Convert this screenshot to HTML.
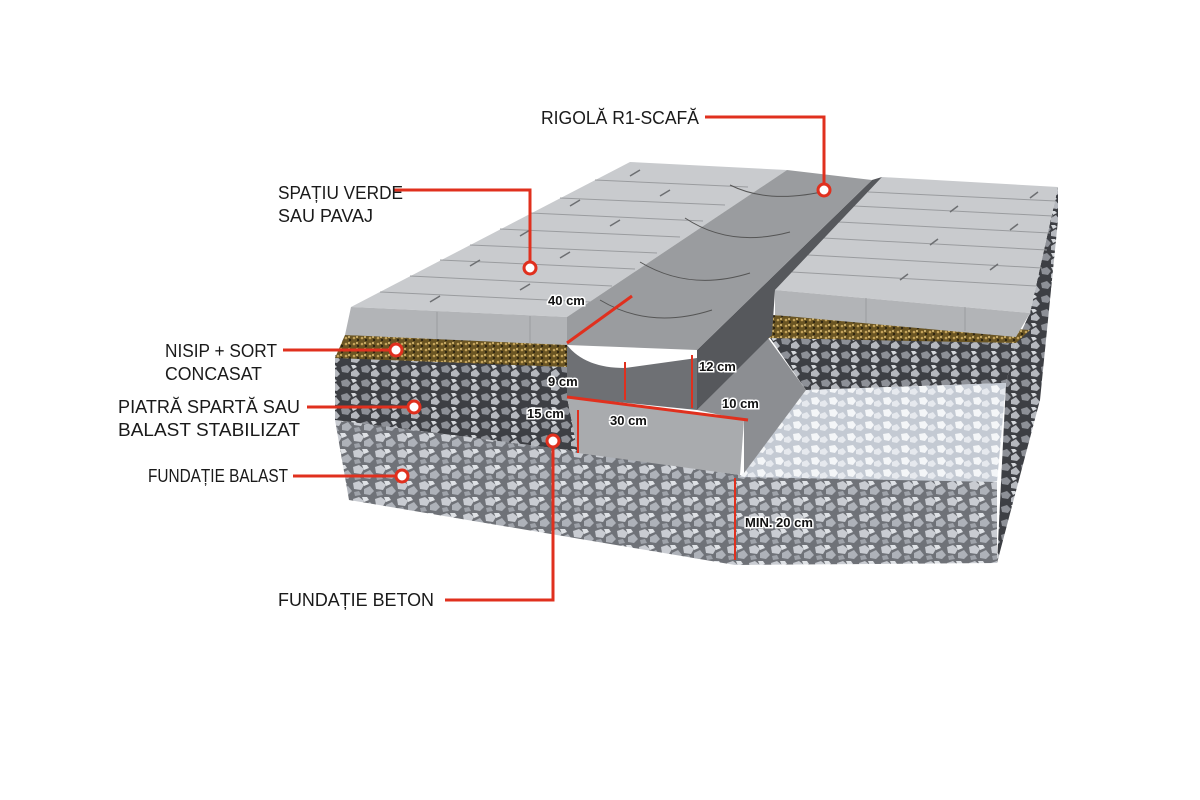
<!DOCTYPE html>
<html><head><meta charset="utf-8"><style>
html,body{margin:0;padding:0;background:#fff;width:1200px;height:800px;overflow:hidden}
text{font-family:"Liberation Sans",sans-serif}
.l{font-size:18px;fill:#1a1a1a}
.d{font-size:13px;font-weight:bold;fill:#111;stroke:#fff;stroke-width:3px;paint-order:stroke}
</style></head><body>
<svg width="1200" height="800" viewBox="0 0 1200 800" xmlns="http://www.w3.org/2000/svg">
<defs>
<pattern id="grav" width="22" height="16" patternUnits="userSpaceOnUse">
<rect width="22" height="16" fill="#6f7278"/>
<path d="M1 3l6-2 5 4-3 5-7-1z" fill="#c9ccd2"/>
<path d="M12 9l6-3 4 5-4 4-6-1z" fill="#aeb2b9"/>
<path d="M10 1l5 0 2 3-5 2z" fill="#dfe2e6"/>
<path d="M2 12l5-1 2 4-6 1z" fill="#9fa3aa"/>
</pattern>
<pattern id="dgrav" width="20" height="14" patternUnits="userSpaceOnUse">
<rect width="20" height="14" fill="#3d3f44"/>
<path d="M1 3l6-2 4 4-3 4-6-1z" fill="#8d9097"/>
<path d="M11 8l5-3 4 5-3 3-6-1z" fill="#b5b8be"/>
<path d="M11 1l4 0 2 2-4 2z" fill="#d5d8dc"/>
</pattern>
<pattern id="wgrav" width="18" height="12" patternUnits="userSpaceOnUse">
<rect width="18" height="12" fill="#c4cad3"/>
<path d="M1 2l6-1 3 4-3 4-5-1z" fill="#f4f6f8"/>
<path d="M10 6l5-2 3 4-3 3-5-1z" fill="#e6e9ee"/>
</pattern>
<pattern id="sand" width="8" height="6" patternUnits="userSpaceOnUse">
<rect width="8" height="6" fill="#6a5523"/>
<circle cx="2" cy="2" r="1.3" fill="#c4a25a"/><circle cx="6" cy="4" r="1.2" fill="#2e2512"/><circle cx="5" cy="1" r="1" fill="#e0c27a"/>
</pattern>
</defs>

<polygon points="335,420 568,450 740,475 997,480 997,563 735,565 349,500" fill="url(#grav)"/>
<polygon points="1058,187 1030,313 1016,343 1006,383 997,563 1040,400 1058,220" fill="url(#dgrav)"/>
<polygon points="335,355 567,367 567,397 578,453 568,450 335,420" fill="url(#dgrav)"/>
<polygon points="768,335 1016,343 1006,383 806,390" fill="url(#dgrav)"/>
<polygon points="740,477 806,390 1006,383 997,482" fill="url(#wgrav)"/>
<polygon points="567,397 744,420 740,475 578,453" fill="#a9abae"/>
<polygon points="697,410 768,338 806,390 744,473 744,420" fill="#8c8e92"/>
<polygon points="345,335 567,340 567,367 335,358" fill="url(#sand)"/>
<polygon points="772,315 1030,330 1016,343 768,338" fill="url(#sand)"/>
<!-- left pavement -->
<polygon points="351,307 630,162 787,170 567,317" fill="#c9cbce"/>
<polygon points="351,307 567,317 567,345 345,335" fill="#b2b4b7"/>
<g stroke="#9a9c9f" stroke-width="1">
<line x1="437" y1="312" x2="437" y2="339"/><line x1="530" y1="316" x2="530" y2="343"/>
<line x1="380" y1="292" x2="590" y2="302"/><line x1="410" y1="276" x2="612" y2="286"/>
<line x1="440" y1="260" x2="635" y2="269"/><line x1="470" y1="245" x2="657" y2="253"/>
<line x1="500" y1="229" x2="680" y2="237"/><line x1="530" y1="213" x2="703" y2="221"/>
<line x1="560" y1="198" x2="725" y2="205"/><line x1="595" y1="180" x2="748" y2="187"/>
</g>
<g stroke="#6d6f72" stroke-width="1.5">
<line x1="430" y1="302" x2="440" y2="296"/><line x1="520" y1="290" x2="530" y2="284"/><line x1="470" y1="266" x2="480" y2="260"/>
<line x1="560" y1="258" x2="570" y2="252"/><line x1="520" y1="236" x2="530" y2="230"/><line x1="610" y1="226" x2="620" y2="220"/>
<line x1="570" y1="206" x2="580" y2="200"/><line x1="660" y1="196" x2="670" y2="190"/><line x1="630" y1="176" x2="640" y2="170"/>
</g>
<!-- right pavement -->
<polygon points="775,290 882,177 1058,187 1030,313" fill="#c9cbce"/>
<polygon points="775,290 1030,313 1016,337 775,315" fill="#b2b4b7"/>
<g stroke="#9a9c9f" stroke-width="1">
<line x1="866" y1="298" x2="866" y2="323"/><line x1="965" y1="307" x2="965" y2="331"/>
<line x1="792" y1="272" x2="1036" y2="286"/><line x1="808" y1="255" x2="1042" y2="268"/>
<line x1="823" y1="238" x2="1047" y2="250"/><line x1="839" y1="222" x2="1050" y2="233"/>
<line x1="854" y1="206" x2="1053" y2="216"/><line x1="868" y1="192" x2="1056" y2="201"/>
</g>
<g stroke="#6d6f72" stroke-width="1.5">
<line x1="900" y1="280" x2="908" y2="274"/><line x1="990" y1="270" x2="998" y2="264"/><line x1="930" y1="245" x2="938" y2="239"/>
<line x1="1010" y1="230" x2="1018" y2="224"/><line x1="950" y1="212" x2="958" y2="206"/><line x1="1030" y1="198" x2="1038" y2="192"/>
</g>
<!-- gutter -->
<polygon points="697,350 872,180 882,177 775,290 772,335 697,410" fill="#56585c"/>
<polygon points="567,317 787,170 872,180 697,350 567,345" fill="#9a9c9f"/>
<g fill="none" stroke="#555" stroke-width="1">
<path d="M600,300 Q650,330 712,310"/><path d="M640,262 Q690,292 750,273"/><path d="M685,218 Q730,248 790,232"/><path d="M730,185 Q770,205 830,190"/>
</g>
<path d="M567,345 Q585,368 625,368 L697,358 L697,410 L567,397 Z" fill="#6e7074"/>

<g stroke="#e0301e" stroke-width="3" fill="none">
<line x1="567" y1="343" x2="632" y2="296"/>
<line x1="567" y1="397" x2="748" y2="420"/>
</g>
<g stroke="#e0301e" stroke-width="2" fill="none">
<line x1="625" y1="362" x2="625" y2="400"/>
<line x1="692" y1="355" x2="692" y2="408"/>
<line x1="578" y1="410" x2="578" y2="453"/>
<line x1="735" y1="478" x2="735" y2="560"/>
</g>
<text class="d" x="548" y="305">40 cm</text>
<text class="d" x="548" y="386">9 cm</text>
<text class="d" x="699" y="371">12 cm</text>
<text class="d" x="722" y="408">10 cm</text>
<text class="d" x="610" y="425">30 cm</text>
<text class="d" x="527" y="418">15 cm</text>
<text class="d" x="745" y="527">MIN. 20 cm</text>

<g stroke="#e0301e" stroke-width="3" fill="none">
<polyline points="705,117 824,117 824,183"/>
<polyline points="393,190 530,190 530,262"/>
<line x1="283" y1="350" x2="390" y2="350"/>
<line x1="307" y1="407" x2="408" y2="407"/>
<line x1="293" y1="476" x2="396" y2="476"/>
<polyline points="445,600 553,600 553,447"/>
</g>
<g fill="#fff" stroke="#e0301e" stroke-width="3">
<circle cx="824" cy="190" r="6"/><circle cx="530" cy="268" r="6"/><circle cx="396" cy="350" r="6"/>
<circle cx="414" cy="407" r="6"/><circle cx="402" cy="476" r="6"/><circle cx="553" cy="441" r="6"/>
</g>
<text class="l" x="541" y="124" textLength="158" lengthAdjust="spacingAndGlyphs">RIGOLĂ R1-SCAFĂ</text>
<text class="l" x="278" y="199" textLength="125" lengthAdjust="spacingAndGlyphs">SPAȚIU VERDE</text>
<text class="l" x="278" y="222" textLength="95" lengthAdjust="spacingAndGlyphs">SAU PAVAJ</text>
<text class="l" x="165" y="357" textLength="112" lengthAdjust="spacingAndGlyphs">NISIP + SORT</text>
<text class="l" x="165" y="380" textLength="97" lengthAdjust="spacingAndGlyphs">CONCASAT</text>
<text class="l" x="118" y="413" textLength="182" lengthAdjust="spacingAndGlyphs">PIATRĂ SPARTĂ SAU</text>
<text class="l" x="118" y="436" textLength="182" lengthAdjust="spacingAndGlyphs">BALAST STABILIZAT</text>
<text class="l" x="148" y="482" textLength="140" lengthAdjust="spacingAndGlyphs">FUNDAȚIE BALAST</text>
<text class="l" x="278" y="606" textLength="156" lengthAdjust="spacingAndGlyphs">FUNDAȚIE BETON</text>
</svg>
</body></html>
